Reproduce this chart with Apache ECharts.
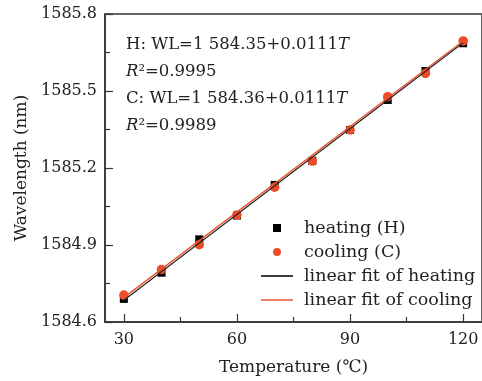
<!DOCTYPE html>
<html>
<head>
<meta charset="utf-8">
<script src="https://cdn.jsdelivr.net/npm/echarts@6/dist/echarts.min.js"></script>
<style>
  html, body { margin: 0; padding: 0; background: #fff; }
  #chart { width: 482px; height: 381px; }
</style>
</head>
<body>
<div id="chart"></div>
<script>
// temperature (C) and measured wavelengths (nm)
var temperature = [30, 40, 50, 60, 70, 80, 90, 100, 110, 120]
var heating = [1584.69, 1584.792, 1584.922, 1585.015, 1585.134, 1585.228, 1585.348, 1585.465, 1585.578, 1585.686]
var cooling = [1584.705, 1584.805, 1584.901, 1585.017, 1585.125, 1585.227, 1585.348, 1585.478, 1585.569, 1585.695]

// fitted lines, end points
var fitT = [30, 120]
var fitHeating = [1584.685, 1585.688]
var fitCooling = [1584.695, 1585.695]

var xMajorTicks = [30, 60, 90, 120]
var xMinorTicks = [45, 75, 105]

var FONT = 'DejaVu Serif'
var AXIS = '#333'
var RED = '#ee4b28'
var FIT_RED = '#e9502c'

function pairs(xs, ys) {
  return xs.map(function (x, i) { return [x, ys[i]] })
}

var chart = echarts.init(document.getElementById('chart'))
chart.setOption({
  animation: false,
  title: {
    left: 126,
    top: 31,
    padding: 0,
    text: '{r|H: WL=1 584.35+0.0111}{i|T}\n{i|R}{r|²=0.9995}\n{r|C: WL=1 584.36+0.0111}{i|T}\n{i|R}{r|²=0.9989}',
    textStyle: {
      fontWeight: 'normal',
      rich: {
        r: { fontFamily: FONT, fontSize: 16.5, lineHeight: 27, color: '#222', fontWeight: 'normal' },
        i: { fontFamily: FONT, fontSize: 16.5, lineHeight: 27, color: '#222', fontWeight: 'normal', fontStyle: 'italic' }
      }
    }
  },
  legend: {
    orient: 'vertical',
    left: 261,
    top: 219,
    padding: 0,
    itemWidth: 32,
    itemHeight: 8,
    itemGap: 6,
    textStyle: { fontFamily: FONT, fontSize: 17.5, color: '#222', padding: [0, 0, 0, 6] },
    data: [
      { name: 'heating (H)', icon: 'path://M0,0H10V10H0Z' },
      { name: 'cooling (C)', icon: 'circle' },
      { name: 'linear fit of heating', icon: 'path://M0,0H32V2H0Z' },
      { name: 'linear fit of cooling', icon: 'path://M0,0H32V2H0Z' }
    ]
  },
  grid: {
    left: 105,
    top: 14,
    width: 379,
    height: 308,
    show: true,
    borderColor: AXIS,
    borderWidth: 1.5
  },
  xAxis: [
    {
      type: 'value',
      min: 25,
      max: 125,
      name: 'Temperature (℃)',
      nameLocation: 'middle',
      nameGap: 37,
      nameTextStyle: { fontFamily: FONT, fontSize: 17, color: '#222' },
      axisLine: { show: true, lineStyle: { color: AXIS, width: 1.5 } },
      axisTick: { show: true, inside: true, length: 8, customValues: xMajorTicks, lineStyle: { color: AXIS, width: 1.2 } },
      axisLabel: { customValues: xMajorTicks, margin: 10, fontFamily: FONT, fontSize: 16, color: '#222' },
      splitLine: { show: false }
    },
    {
      type: 'value',
      gridIndex: 0,
      position: 'bottom',
      min: 25,
      max: 125,
      axisLine: { show: false },
      axisTick: { show: true, inside: true, length: 5, customValues: xMinorTicks, lineStyle: { color: AXIS, width: 1.2 } },
      axisLabel: { show: false },
      splitLine: { show: false }
    }
  ],
  yAxis: {
    type: 'value',
    min: 1584.6,
    max: 1585.8,
    interval: 0.3,
    name: 'Wavelength (nm)',
    nameLocation: 'middle',
    nameGap: 70,
    nameTextStyle: { fontFamily: FONT, fontSize: 17, color: '#222' },
    axisLine: { show: true, lineStyle: { color: AXIS, width: 1.5 } },
    axisTick: { show: true, inside: true, length: 8, lineStyle: { color: AXIS, width: 1.2 } },
    minorTick: { show: true, splitNumber: 2, length: 5, lineStyle: { color: AXIS, width: 1.2 } },
    axisLabel: {
      margin: 8,
      fontFamily: FONT,
      fontSize: 16,
      color: '#222',
      formatter: function (v) { return v.toFixed(1) }
    },
    splitLine: { show: false }
  },
  series: [
    {
      name: 'heating (H)',
      type: 'scatter',
      symbol: 'rect',
      symbolSize: 8,
      itemStyle: { color: '#000', opacity: 1 },
      data: pairs(temperature, heating)
    },
    {
      name: 'cooling (C)',
      type: 'scatter',
      symbol: 'circle',
      symbolSize: 9.5,
      itemStyle: { color: RED, opacity: 1 },
      data: pairs(temperature, cooling)
    },
    {
      name: 'linear fit of heating',
      type: 'line',
      symbol: 'none',
      lineStyle: { color: '#222', width: 1.2 },
      itemStyle: { color: '#3a3a3a' },
      data: pairs(fitT, fitHeating)
    },
    {
      name: 'linear fit of cooling',
      type: 'line',
      symbol: 'none',
      lineStyle: { color: FIT_RED, width: 1.3 },
      itemStyle: { color: '#f4806a' },
      data: pairs(fitT, fitCooling)
    }
  ]
})
</script>
</body>
</html>
